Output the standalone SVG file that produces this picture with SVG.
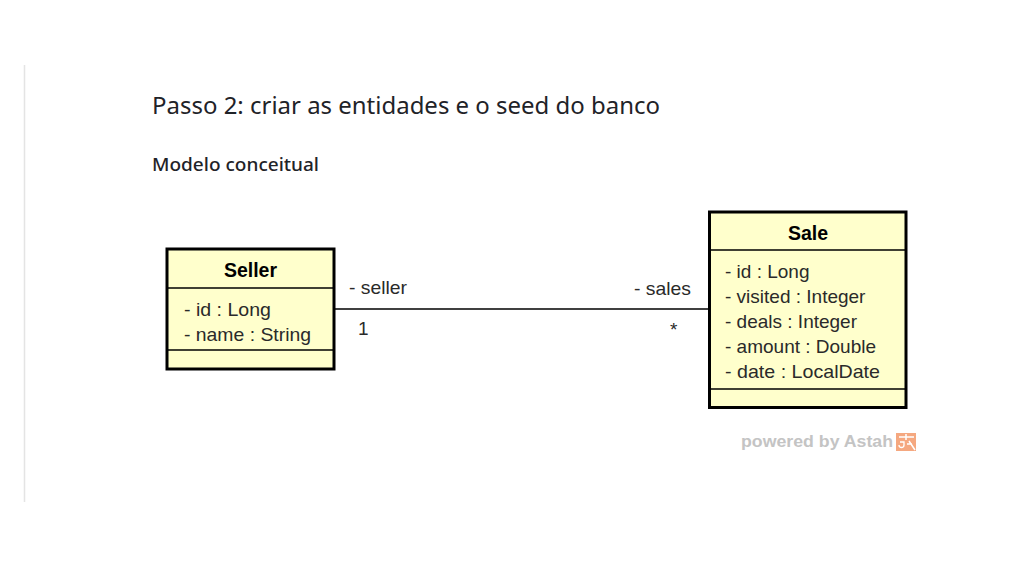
<svg xmlns="http://www.w3.org/2000/svg" width="1030" height="587" viewBox="0 0 1030 587">
<style>
.box{fill:#ffffcc;stroke:#000;stroke-width:3}
.div{stroke:#000;stroke-width:1.5}
.cls{font-family:"Liberation Sans",Arial,sans-serif;font-weight:bold;font-size:19.5px;fill:#000;text-anchor:middle}
.att{font-family:"Liberation Sans",Arial,sans-serif;font-size:19px;fill:#2a2a2a}
.lbl{font-family:"Liberation Sans",Arial,sans-serif;font-size:19px;fill:#2a2a2a}
.h{font-family:"Noto Sans","Open Sans",sans-serif;fill:#1f2328}
</style>
<rect width="1030" height="587" fill="#fff"/>
<line x1="24.5" y1="65" x2="24.5" y2="502" stroke="#e4e4e4" stroke-width="1.5"/>
<text class="h" x="152" y="114" font-size="23" textLength="508" lengthAdjust="spacingAndGlyphs">Passo 2: criar as entidades e o seed do banco</text>
<text class="h" x="152" y="171" font-size="18" font-weight="500" textLength="167" lengthAdjust="spacingAndGlyphs">Modelo conceitual</text>
<g id="connectors">
<line x1="335" y1="309" x2="708" y2="309" stroke="#000" stroke-width="1.5"/>
<text class="lbl" x="349" y="294" textLength="58" lengthAdjust="spacingAndGlyphs">- seller</text>
<text class="lbl" x="358" y="335">1</text>
<text class="lbl" x="634" y="295" textLength="57" lengthAdjust="spacingAndGlyphs">- sales</text>
<text class="lbl" x="670" y="336">*</text>
</g>
<g id="seller">
<rect class="box" x="167" y="249" width="167" height="120"/>
<line class="div" x1="167" y1="288" x2="334" y2="288"/>
<line class="div" x1="167" y1="350" x2="334" y2="350"/>
<text class="cls" x="250.5" y="277">Seller</text>
<text class="att" x="184" y="316" textLength="87" lengthAdjust="spacingAndGlyphs">- id : Long</text>
<text class="att" x="184" y="341" textLength="127" lengthAdjust="spacingAndGlyphs">- name : String</text>
</g>
<g id="sale">
<rect class="box" x="709.5" y="212" width="196.5" height="195.5"/>
<line class="div" x1="709.5" y1="250" x2="906" y2="250"/>
<line class="div" x1="709.5" y1="389" x2="906" y2="389"/>
<text class="cls" x="808" y="240">Sale</text>
<text class="att" x="725" y="278">- id : Long</text>
<text class="att" x="725" y="303">- visited : Integer</text>
<text class="att" x="725" y="328">- deals : Integer</text>
<text class="att" x="725" y="353">- amount : Double</text>
<text class="att" x="725" y="378" textLength="155" lengthAdjust="spacingAndGlyphs">- date : LocalDate</text>
</g>
<g id="watermark">
<text x="741" y="447" font-family="'Liberation Sans',Arial,sans-serif" font-weight="bold" font-size="16.5" fill="#c4c4c4" textLength="152" lengthAdjust="spacingAndGlyphs">powered by Astah</text>
<rect x="896" y="433" width="20" height="18" fill="#f5a880"/>
<path d="M906 434 L906 440 M899 437 L914 437 M909 441 L915 450 M907 444 L912 444" stroke="#fff" stroke-width="1.5" fill="none"/>
<path d="M899 445 a2.5 2.5 0 1 0 5 0 v-3 h-4" stroke="#fff" stroke-width="1.3" fill="none"/>
</g>
</svg>
